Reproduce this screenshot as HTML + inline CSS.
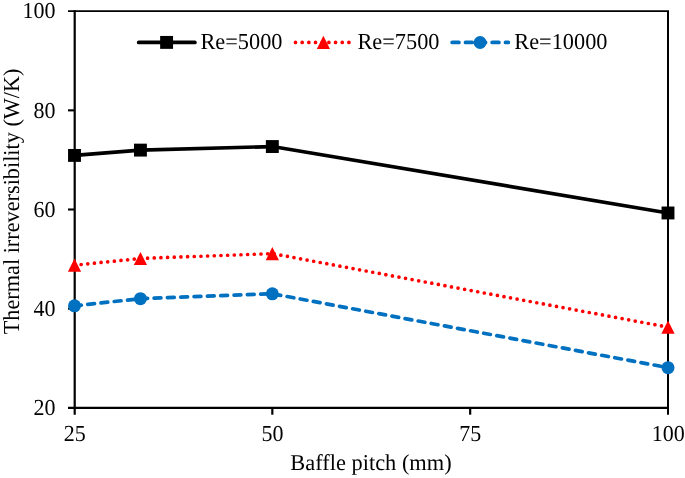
<!DOCTYPE html><html><head><meta charset="utf-8"><title>chart</title><style>html,body{margin:0;padding:0;background:#fff}svg{display:block}text{font-family:"Liberation Serif",serif;font-size:22px;fill:#000;text-rendering:geometricPrecision}</style></head><body>
<svg width="685" height="478" viewBox="0 0 685 478">
<rect width="685" height="478" fill="#fff"/>
<g stroke="#000" fill="none">
<line x1="68" y1="11.15" x2="669.0" y2="11.15" stroke-width="1.9"/>
<line x1="668.0" y1="11.2" x2="668.0" y2="414.7" stroke-width="2"/>
<line x1="74.7" y1="10.299999999999999" x2="74.7" y2="414.7" stroke-width="2.2"/>
<line x1="68" y1="407.9" x2="669.0" y2="407.9" stroke-width="2.1"/>
<line x1="68" y1="110.35" x2="74.5" y2="110.35" stroke-width="2.1"/>
<line x1="68" y1="209.50" x2="74.5" y2="209.50" stroke-width="2.1"/>
<line x1="68" y1="308.65" x2="74.5" y2="308.65" stroke-width="2.1"/>
<line x1="272.33" y1="407.8" x2="272.33" y2="414.7" stroke-width="2.2"/>
<line x1="470.17" y1="407.8" x2="470.17" y2="414.7" stroke-width="2.2"/>
</g>
<polyline points="74.50,305.78 140.44,298.69 272.33,293.78 668.00,367.65" fill="none" stroke="#0070c0" stroke-width="3.7" stroke-linecap="round" stroke-linejoin="round" stroke-dasharray="6.8 6.533"/>
<polyline points="74.50,265.17 140.44,258.48 272.33,253.57 668.00,327.14" fill="none" stroke="#ff0000" stroke-width="3.7" stroke-linecap="round" stroke-linejoin="round" stroke-dasharray="0 6.675"/>
<polyline points="74.50,155.42 140.44,150.11 272.33,146.54 668.00,212.97" fill="none" stroke="#000" stroke-width="3.7" stroke-linecap="round" stroke-linejoin="round"/>
<circle cx="74.50" cy="305.78" r="6.5" fill="#0070c0"/>
<circle cx="140.44" cy="298.69" r="6.5" fill="#0070c0"/>
<circle cx="272.33" cy="293.78" r="6.5" fill="#0070c0"/>
<circle cx="668.00" cy="367.65" r="6.5" fill="#0070c0"/>
<polygon points="74.50,258.57 81.10,271.77 67.90,271.77" fill="#ff0000"/>
<polygon points="140.44,251.88 147.04,265.08 133.84,265.08" fill="#ff0000"/>
<polygon points="272.33,246.97 278.93,260.17 265.73,260.17" fill="#ff0000"/>
<polygon points="668.00,320.54 674.60,333.74 661.40,333.74" fill="#ff0000"/>
<rect x="68.05" y="148.97" width="12.9" height="12.9" fill="#000"/>
<rect x="133.99" y="143.66" width="12.9" height="12.9" fill="#000"/>
<rect x="265.88" y="140.09" width="12.9" height="12.9" fill="#000"/>
<rect x="661.55" y="206.52" width="12.9" height="12.9" fill="#000"/>
<line x1="138.7" y1="42.4" x2="194.9" y2="42.4" stroke="#000" stroke-width="3.7" stroke-linecap="round"/>
<rect x="160.15" y="35.95" width="12.9" height="12.9" fill="#000"/>
<line x1="295.5" y1="42.4" x2="351.3" y2="42.4" stroke="#ff0000" stroke-width="3.7" stroke-linecap="round" stroke-dasharray="0 6.675"/>
<polygon points="323.40,35.70 330.00,48.90 316.80,48.90" fill="#ff0000"/>
<line x1="452.15" y1="42.4" x2="508.35" y2="42.4" stroke="#0070c0" stroke-width="3.7" stroke-linecap="round" stroke-dasharray="6.8 6.533"/>
<circle cx="480.10" cy="42.50" r="6.5" fill="#0070c0"/>
<g opacity="0.999">
<text transform="translate(200.40,49.30) scale(1.015,1.04)" text-anchor="start">Re=5000</text>
<text transform="translate(357.40,49.30) scale(1.015,1.04)" text-anchor="start">Re=7500</text>
<text transform="translate(514.30,49.30) scale(1.015,1.04)" text-anchor="start">Re=10000</text>
<text transform="translate(55.50,18.45) scale(1.0,1.042)" text-anchor="end">100</text>
<text transform="translate(55.50,117.60) scale(1.0,1.042)" text-anchor="end">80</text>
<text transform="translate(55.50,216.75) scale(1.0,1.042)" text-anchor="end">60</text>
<text transform="translate(55.50,315.90) scale(1.0,1.042)" text-anchor="end">40</text>
<text transform="translate(55.50,415.05) scale(1.0,1.042)" text-anchor="end">20</text>
<text transform="translate(74.70,441.00) scale(1.0,1.042)" text-anchor="middle">25</text>
<text transform="translate(272.53,441.00) scale(1.0,1.042)" text-anchor="middle">50</text>
<text transform="translate(470.37,441.00) scale(1.0,1.042)" text-anchor="middle">75</text>
<text transform="translate(668.20,441.00) scale(1.0,1.042)" text-anchor="middle">100</text>
<text transform="translate(371.00,470.20) scale(1.018,1.03)" text-anchor="middle">Baffle pitch (mm)</text>
<text transform="translate(18.70,201.40) rotate(-90) scale(1.012,1.04)" text-anchor="middle">Thermal irreversibility (W/K)</text>
</g>
</svg></body></html>
